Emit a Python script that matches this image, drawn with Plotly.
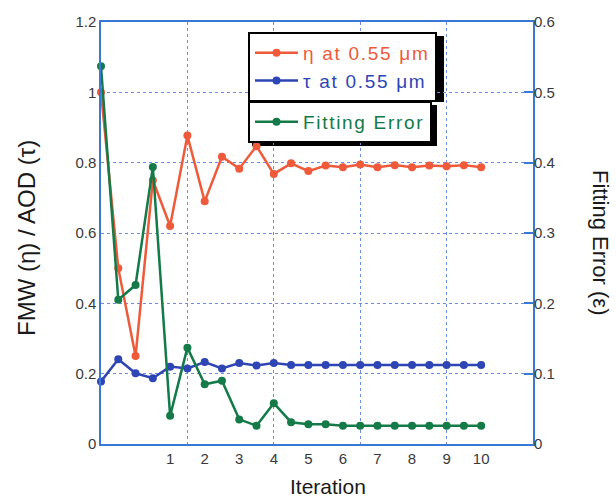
import plotly.graph_objects as go

# x positions: index of each step; iteration k sits at index 2k+2
step = list(range(23))
iter_tickvals = [4, 6, 8, 10, 12, 14, 16, 18, 20, 22]
iter_ticktext = ["1", "2", "3", "4", "5", "6", "7", "8", "9", "10"]
grid_vals = [5, 10, 15, 20]

eta = [1.00, 0.50, 0.25, 0.75, 0.62, 0.877, 0.69, 0.817, 0.783, 0.847, 0.768,
       0.798, 0.776, 0.792, 0.787, 0.795, 0.787, 0.793, 0.787, 0.792, 0.790, 0.793, 0.787]
tau = [0.178, 0.241, 0.201, 0.187, 0.220, 0.215, 0.233, 0.215, 0.230, 0.223, 0.230,
       0.225, 0.225, 0.225, 0.225, 0.225, 0.225, 0.225, 0.225, 0.225, 0.225, 0.225, 0.225]
fit_err = [0.537, 0.205, 0.226, 0.394, 0.040, 0.137, 0.085, 0.090, 0.035, 0.026, 0.058,
           0.031, 0.028, 0.028, 0.026, 0.026, 0.026, 0.026, 0.026, 0.026, 0.026, 0.026, 0.026]

RED = "#EE5A3A"
BLUE = "#2E46B4"
GREEN = "#137A48"
AXIS = "#3A78D8"
GRID = "#6A8FE0"
FONT = "Liberation Sans, Arial, sans-serif"
LS = "letter-spacing:1.7px"

fig = go.Figure()
fig.add_trace(go.Scatter(x=step, y=eta, mode="lines+markers", cliponaxis=False,
                         name=f"<span style='color:{RED};{LS}'>η at 0.55 μm</span>",
                         line=dict(color=RED, width=2.5), marker=dict(size=8, color=RED),
                         legend="legend"))
fig.add_trace(go.Scatter(x=step, y=tau, mode="lines+markers", cliponaxis=False,
                         name=f"<span style='color:{BLUE};{LS}'>τ at 0.55 μm</span>",
                         line=dict(color=BLUE, width=2.5), marker=dict(size=8, color=BLUE),
                         legend="legend"))
fig.add_trace(go.Scatter(x=step, y=fit_err, mode="lines+markers", cliponaxis=False, yaxis="y2",
                         name=f"<span style='color:{GREEN};{LS}'>Fitting Error</span>",
                         line=dict(color=GREEN, width=2.5), marker=dict(size=8, color=GREEN),
                         legend="legend2"))

L, R, T, B = 101, 83, 22, 56
W, H = 616, 500
pw, ph = W - L - R, H - T - B

def px(x):
    return (x - L) / pw

def py(y):
    return 1 - (y - T) / ph

fig.update_layout(
    width=W, height=H,
    margin=dict(l=L, r=R, t=T, b=B),
    paper_bgcolor="white", plot_bgcolor="rgba(0,0,0,0)",
    font=dict(family=FONT, size=14, color="#444"),
    showlegend=True,
    xaxis=dict(range=[0, 25], tickvals=iter_tickvals, ticktext=iter_ticktext,
               showgrid=False, zeroline=False, showline=True, linecolor=AXIS, linewidth=1.5,
               mirror=True, ticks="", tickfont=dict(size=15, color="#3a3a3a"),
               minor=dict(tickvals=grid_vals, showgrid=True, gridcolor=GRID,
                          griddash="dot", gridwidth=1.2, ticks="")),
    yaxis=dict(range=[0, 1.2], dtick=0.2, tickformat="~g", showgrid=True, gridcolor=GRID,
               griddash="dot", gridwidth=1.2, zeroline=False, showline=True,
               linecolor=AXIS, linewidth=1.5, mirror=True, ticks="",
               tickfont=dict(size=15, color="#3a3a3a")),
    yaxis2=dict(range=[0, 0.6], dtick=0.1, tickformat="~g", overlaying="y", side="right",
                showgrid=False, zeroline=False, showline=False, ticks="inside",
                ticklen=9, tickcolor=AXIS, tickwidth=1.5,
                tickfont=dict(size=15, color="#3a3a3a")),
    legend=dict(x=px(248), y=py(32), xanchor="left", yanchor="top",
                bgcolor="white", bordercolor="black", borderwidth=2,
                font=dict(family=FONT, size=19), tracegroupgap=0, itemwidth=43),
    legend2=dict(x=px(248), y=py(101), xanchor="left", yanchor="top",
                 bgcolor="white", bordercolor="black", borderwidth=2,
                 font=dict(family=FONT, size=19), itemwidth=43),
    shapes=[
        dict(type="rect", xref="paper", yref="paper", x0=px(252), x1=px(444),
             y0=py(36), y1=py(102), fillcolor="black", line=dict(width=0), layer="below"),
        dict(type="rect", xref="paper", yref="paper", x0=px(252), x1=px(437),
             y0=py(105), y1=py(146), fillcolor="black", line=dict(width=0), layer="below"),
    ],
    annotations=[
        dict(text="Iteration", xref="paper", yref="paper", x=px(328), y=py(486),
             showarrow=False, font=dict(size=21, color="#1a1a1a"), xanchor="center", yanchor="middle"),
        dict(text="FMW (η) / AOD (τ)", xref="paper", yref="paper", x=px(27), y=py(238),
             showarrow=False, textangle=-90, font=dict(size=24, color="#1a1a1a"),
             xanchor="center", yanchor="middle"),
        dict(text="Fitting Error (ε)", xref="paper", yref="paper", x=px(601), y=py(242),
             showarrow=False, textangle=90, font=dict(size=22, color="#1a1a1a"),
             xanchor="center", yanchor="middle"),
    ],
)

fig.write_html("out.html", config={"displayModeBar": False},
               post_script="document.body.style.margin='0px';")
